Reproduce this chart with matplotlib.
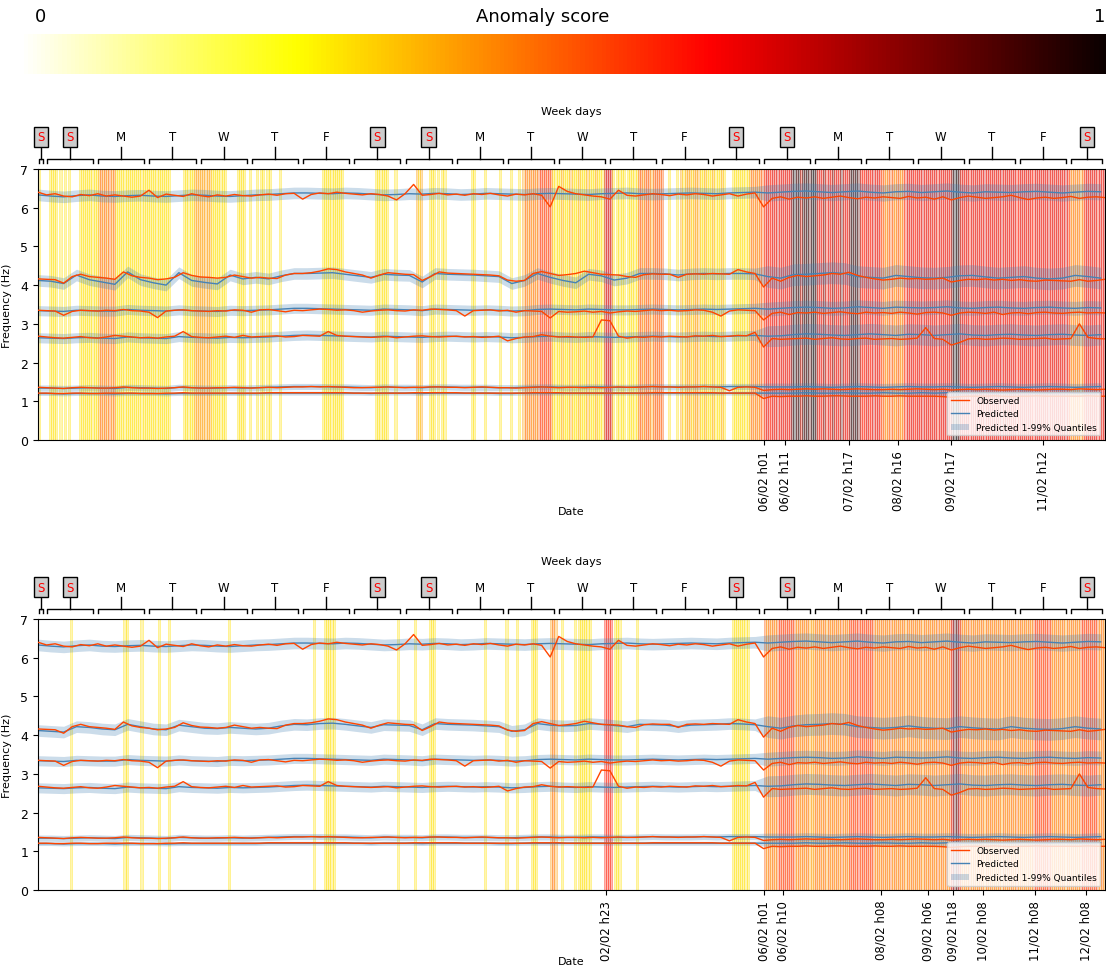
import numpy as np
import pandas as pd
import matplotlib
matplotlib.use("Agg")
import matplotlib.pyplot as plt
import matplotlib.dates as mdates
import matplotlib.transforms as mtransforms
from matplotlib.lines import Line2D
from matplotlib.patches import Patch

START = "2022-01-22 21:00"
END = "2022-02-12 17:00"
CHANGE = "2022-02-06 01:00"

# anomaly score level per hour (digit, see SCORE_LEVELS), one row per day, starting 22/01 h21
SCORE_LEVELS = [0.0, 0.1, 0.2, 0.3, 0.4, 0.5, 0.6, 0.7, 0.88, 1.0]
SCORES_TOP = [
    "300",
    "003333030303000033333333",  # 23/01
    "345454545333333333333333",
    "333333333330000003333344",
    "444444333333300000333300",
    "300303303300003000000000",
    "000000000033333333330000",
    "000000000003333330003000",
    "000000434000333030330000",  # 30/01
    "000000003300003000000300",
    "003000304545454565656533",
    "334333433343334333433377",  # 02/02
    "773033330333335545554555",
    "550030003043444344433433",
    "343334300033333333454545",
    "567667676767678989698989",  # 06/02
    "986768676867686768989866",
    "676676765545554554567676",
    "676767676767676768998676",
    "767676767676767676767676",
    "676767667676767676767676",
    "545454567676767676",  # 12/02 h00-h17
]
SCORES_BOT = [
    "000",
    "000000000000300000000000",
    "000000000000033000000300",
    "000003000030000000000000",
    "000000000000003000000000",
    "000000000000000000000000",
    "000000300003333300000000",
    "000000000000000000000300",
    "000003000000333000000000",
    "000000000000003000000000",
    "300003000000333000000454",
    "003000003033333300000066",
    "660333000000030000000000",
    "000000000000000000000000",
    "000000000033333333000000",
    "054545456565656545454544",
    "454545454545454546565656",
    "565654545454545454545454",
    "545454545454545457887545",
    "454545454545454545454545",
    "454545456565656545454545",
    "454545656565654545",
]

# observed frequencies (Hz), every 4 hours from START
OBS_F6 = [6.40, 6.33, 6.36, 6.30, 6.28, 6.34, 6.31, 6.36, 6.30, 6.33,
          6.30, 6.27, 6.30, 6.45, 6.26, 6.35, 6.32, 6.29, 6.36, 6.31,
          6.28, 6.33, 6.30, 6.34, 6.31, 6.30, 6.33, 6.35, 6.32, 6.36,
          6.37, 6.22, 6.34, 6.38, 6.36, 6.40, 6.37, 6.35, 6.33, 6.36,
          6.34, 6.30, 6.20, 6.36, 6.60, 6.32, 6.34, 6.37, 6.33, 6.35,
          6.32, 6.36, 6.34, 6.37, 6.33, 6.30, 6.35, 6.33, 6.36, 6.32,
          6.02, 6.55, 6.42, 6.36, 6.33, 6.30, 6.28, 6.22, 6.45, 6.32,
          6.30, 6.33, 6.36, 6.34, 6.31, 6.35, 6.33, 6.36, 6.34, 6.30,
          6.33, 6.36, 6.30, 6.35, 6.38, 6.02, 6.24, 6.28, 6.22, 6.27,
          6.25, 6.28, 6.24, 6.27, 6.30, 6.26, 6.23, 6.27, 6.25, 6.28,
          6.26, 6.24, 6.29, 6.25, 6.27, 6.22, 6.28, 6.20, 6.26, 6.30,
          6.27, 6.24, 6.26, 6.28, 6.32, 6.26, 6.21, 6.25, 6.27, 6.24,
          6.26, 6.29, 6.24, 6.27, 6.28, 6.26]
OBS_F5 = [4.16, 4.15, 4.14, 4.05, 4.22, 4.28, 4.22, 4.20, 4.18, 4.15,
          4.34, 4.24, 4.20, 4.18, 4.14, 4.16, 4.20, 4.32, 4.25, 4.21,
          4.20, 4.18, 4.20, 4.26, 4.22, 4.18, 4.20, 4.18, 4.17, 4.26,
          4.30, 4.30, 4.32, 4.36, 4.42, 4.40, 4.34, 4.30, 4.26, 4.18,
          4.26, 4.32, 4.30, 4.28, 4.27, 4.12, 4.22, 4.34, 4.31, 4.30,
          4.29, 4.28, 4.27, 4.26, 4.24, 4.13, 4.10, 4.12, 4.30, 4.35,
          4.30, 4.25, 4.27, 4.30, 4.36, 4.32, 4.28, 4.27, 4.26, 4.22,
          4.20, 4.27, 4.29, 4.28, 4.28, 4.20, 4.28, 4.29, 4.28, 4.30,
          4.29, 4.28, 4.40, 4.34, 4.30, 3.95, 4.18, 4.10, 4.20, 4.25,
          4.22, 4.24, 4.26, 4.30, 4.28, 4.33, 4.25, 4.20, 4.16, 4.13,
          4.15, 4.18, 4.16, 4.17, 4.15, 4.16, 4.18, 4.08, 4.12, 4.15,
          4.14, 4.16, 4.13, 4.15, 4.12, 4.14, 4.11, 4.10, 4.13, 4.12,
          4.11, 4.10, 4.14, 4.10, 4.12, 4.15]
OBS_F4 = [3.35, 3.34, 3.33, 3.22, 3.32, 3.35, 3.34, 3.33, 3.35, 3.34,
          3.37, 3.34, 3.33, 3.30, 3.16, 3.33, 3.35, 3.36, 3.34, 3.33,
          3.32, 3.34, 3.33, 3.36, 3.35, 3.30, 3.36, 3.37, 3.34, 3.31,
          3.35, 3.34, 3.36, 3.38, 3.37, 3.35, 3.36, 3.34, 3.30, 3.33,
          3.35, 3.36, 3.34, 3.33, 3.36, 3.35, 3.38, 3.37, 3.36, 3.34,
          3.20, 3.34, 3.35, 3.36, 3.33, 3.35, 3.30, 3.34, 3.33, 3.32,
          3.15, 3.32, 3.30, 3.31, 3.33, 3.30, 3.32, 3.28, 3.31, 3.33,
          3.32, 3.34, 3.36, 3.34, 3.35, 3.33, 3.34, 3.36, 3.35, 3.30,
          3.20, 3.33, 3.36, 3.35, 3.34, 3.10, 3.27, 3.30, 3.24, 3.29,
          3.28, 3.30, 3.27, 3.29, 3.31, 3.28, 3.26, 3.30, 3.28, 3.29,
          3.27, 3.30, 3.28, 3.25, 3.29, 3.30, 3.28, 3.22, 3.28, 3.30,
          3.29, 3.27, 3.30, 3.24, 3.28, 3.29, 3.26, 3.29, 3.30, 3.28,
          3.27, 3.29, 3.30, 3.28, 3.29, 3.28]
OBS_F3 = [2.68, 2.66, 2.64, 2.63, 2.65, 2.67, 2.64, 2.63, 2.66, 2.70,
          2.68, 2.66, 2.64, 2.65, 2.63, 2.66, 2.68, 2.80, 2.67, 2.65,
          2.64, 2.66, 2.68, 2.65, 2.70, 2.66, 2.67, 2.68, 2.69, 2.66,
          2.67, 2.70, 2.69, 2.68, 2.80, 2.70, 2.68, 2.67, 2.66, 2.65,
          2.66, 2.67, 2.64, 2.66, 2.68, 2.69, 2.67, 2.66, 2.67, 2.68,
          2.66, 2.67, 2.65, 2.66, 2.68, 2.56, 2.62, 2.66, 2.67, 2.72,
          2.68, 2.66, 2.67, 2.66, 2.65, 2.66, 3.10, 3.08, 2.68, 2.63,
          2.66, 2.65, 2.67, 2.66, 2.68, 2.67, 2.66, 2.69, 2.68, 2.70,
          2.67, 2.68, 2.70, 2.69, 2.78, 2.40, 2.62, 2.60, 2.61, 2.62,
          2.63, 2.60, 2.62, 2.64, 2.61, 2.60, 2.62, 2.63, 2.60, 2.61,
          2.62, 2.60, 2.61, 2.63, 2.90, 2.62, 2.60, 2.45, 2.52, 2.61,
          2.62, 2.60, 2.61, 2.63, 2.62, 2.60, 2.61, 2.62, 2.63, 2.60,
          2.61, 2.62, 3.00, 2.65, 2.62, 2.61]
OBS_F2 = [1.36, 1.35, 1.34, 1.33, 1.35, 1.36, 1.35, 1.34, 1.34, 1.35,
          1.37, 1.35, 1.34, 1.34, 1.33, 1.34, 1.35, 1.37, 1.35, 1.34,
          1.34, 1.35, 1.35, 1.36, 1.35, 1.34, 1.35, 1.36, 1.35, 1.36,
          1.37, 1.37, 1.38, 1.37, 1.38, 1.37, 1.36, 1.35, 1.35, 1.36,
          1.36, 1.37, 1.36, 1.35, 1.36, 1.36, 1.37, 1.37, 1.36, 1.36,
          1.35, 1.36, 1.37, 1.36, 1.35, 1.35, 1.34, 1.35, 1.36, 1.37,
          1.36, 1.35, 1.36, 1.36, 1.35, 1.36, 1.35, 1.36, 1.37, 1.36,
          1.36, 1.37, 1.38, 1.37, 1.37, 1.36, 1.37, 1.37, 1.38, 1.37,
          1.36, 1.27, 1.36, 1.37, 1.36, 1.28, 1.30, 1.31, 1.30, 1.31,
          1.32, 1.31, 1.32, 1.31, 1.30, 1.31, 1.32, 1.31, 1.30, 1.30,
          1.31, 1.30, 1.31, 1.32, 1.31, 1.30, 1.31, 1.29, 1.30, 1.31,
          1.30, 1.31, 1.30, 1.29, 1.30, 1.31, 1.30, 1.29, 1.30, 1.31,
          1.31, 1.30, 1.32, 1.31, 1.30, 1.31]
OBS_F1 = [1.21, 1.21, 1.20, 1.20, 1.21, 1.21, 1.20, 1.20, 1.21, 1.21,
          1.21, 1.21, 1.20, 1.20, 1.20, 1.21, 1.21, 1.22, 1.21, 1.21,
          1.21, 1.21, 1.21, 1.21, 1.21, 1.21, 1.21, 1.22, 1.22, 1.22,
          1.22, 1.22, 1.22, 1.22, 1.22, 1.22, 1.22, 1.21, 1.21, 1.21,
          1.21, 1.21, 1.21, 1.21, 1.22, 1.22, 1.22, 1.22, 1.22, 1.22,
          1.21, 1.21, 1.21, 1.21, 1.21, 1.21, 1.21, 1.21, 1.22, 1.22,
          1.22, 1.22, 1.21, 1.21, 1.21, 1.21, 1.21, 1.21, 1.21, 1.21,
          1.21, 1.21, 1.22, 1.22, 1.22, 1.22, 1.22, 1.22, 1.22, 1.22,
          1.21, 1.21, 1.21, 1.21, 1.21, 1.07, 1.13, 1.12, 1.13, 1.13,
          1.14, 1.13, 1.13, 1.14, 1.14, 1.13, 1.13, 1.13, 1.14, 1.13,
          1.13, 1.14, 1.13, 1.13, 1.13, 1.13, 1.12, 1.10, 1.12, 1.13,
          1.13, 1.13, 1.14, 1.13, 1.12, 1.13, 1.13, 1.14, 1.13, 1.13,
          1.13, 1.13, 1.13, 1.14, 1.13, 1.13]

# predicted frequencies (Hz), every 6 hours from START
PRED_F6 = [6.33, 6.30, 6.28, 6.31, 6.33, 6.30, 6.29, 6.31, 6.32, 6.30,
           6.29, 6.31, 6.33, 6.32, 6.30, 6.29, 6.31, 6.33, 6.34, 6.36,
           6.38, 6.38, 6.37, 6.36, 6.38, 6.37, 6.35, 6.33, 6.34, 6.36,
           6.35, 6.37, 6.36, 6.34, 6.35, 6.37, 6.36, 6.35, 6.34, 6.36,
           6.37, 6.36, 6.35, 6.34, 6.36, 6.37, 6.38, 6.36, 6.35, 6.36,
           6.37, 6.38, 6.37, 6.36, 6.38, 6.39, 6.40, 6.38, 6.40, 6.42,
           6.43, 6.41, 6.39, 6.41, 6.43, 6.40, 6.38, 6.41, 6.42, 6.39,
           6.41, 6.43, 6.40, 6.38, 6.41, 6.40, 6.39, 6.41, 6.42, 6.40,
           6.38, 6.40, 6.42, 6.41]
PRED_F5 = [4.12, 4.10, 4.08, 4.22, 4.20, 4.16, 4.14, 4.28, 4.22, 4.16,
           4.14, 4.26, 4.22, 4.18, 4.17, 4.20, 4.18, 4.16, 4.18, 4.24,
           4.28, 4.27, 4.30, 4.31, 4.28, 4.24, 4.20, 4.27, 4.26, 4.25,
           4.14, 4.30, 4.28, 4.27, 4.26, 4.24, 4.22, 4.10, 4.14, 4.30,
           4.26, 4.24, 4.25, 4.30, 4.28, 4.25, 4.22, 4.28, 4.27, 4.26,
           4.22, 4.26, 4.27, 4.28, 4.30, 4.29, 4.27, 4.22, 4.18, 4.24,
           4.27, 4.28, 4.30, 4.28, 4.22, 4.20, 4.18, 4.20, 4.24, 4.20,
           4.18, 4.17, 4.22, 4.19, 4.17, 4.16, 4.22, 4.18, 4.16, 4.15,
           4.17, 4.22, 4.18, 4.16]
PRED_F5_TOP = [4.12, 4.10, 4.04, 4.26, 4.14, 4.08, 4.02, 4.34, 4.14, 4.06,
               4.00, 4.32, 4.12, 4.07, 4.03, 4.26, 4.16, 4.20, 4.16, 4.24,
               4.30, 4.30, 4.31, 4.32, 4.28, 4.24, 4.20, 4.28, 4.26, 4.25,
               4.08, 4.30, 4.28, 4.27, 4.26, 4.24, 4.22, 4.04, 4.12, 4.30,
               4.20, 4.12, 4.06, 4.28, 4.24, 4.13, 4.18, 4.30, 4.30, 4.29,
               4.26, 4.29, 4.30, 4.29, 4.30, 4.30, 4.29, 4.22, 4.18, 4.27,
               4.28, 4.30, 4.32, 4.30, 4.22, 4.20, 4.18, 4.25, 4.22, 4.19,
               4.18, 4.20, 4.24, 4.25, 4.21, 4.18, 4.20, 4.22, 4.18, 4.16,
               4.18, 4.25, 4.22, 4.18]
PRED_F4 = [3.34, 3.33, 3.32, 3.35, 3.34, 3.33, 3.33, 3.37, 3.35, 3.34,
           3.33, 3.36, 3.34, 3.33, 3.32, 3.35, 3.34, 3.35, 3.36, 3.38,
           3.40, 3.40, 3.39, 3.38, 3.37, 3.36, 3.35, 3.38, 3.37, 3.36,
           3.34, 3.38, 3.37, 3.36, 3.35, 3.36, 3.35, 3.33, 3.34, 3.37,
           3.38, 3.37, 3.36, 3.38, 3.37, 3.36, 3.36, 3.37, 3.38, 3.37,
           3.36, 3.37, 3.38, 3.37, 3.38, 3.39, 3.40, 3.38, 3.40, 3.42,
           3.43, 3.42, 3.40, 3.41, 3.44, 3.42, 3.40, 3.43, 3.42, 3.41,
           3.42, 3.44, 3.41, 3.40, 3.42, 3.43, 3.41, 3.40, 3.42, 3.43,
           3.41, 3.40, 3.42, 3.41]
PRED_F3 = [2.64, 2.63, 2.62, 2.64, 2.65, 2.63, 2.62, 2.66, 2.64, 2.63,
           2.62, 2.67, 2.65, 2.64, 2.63, 2.65, 2.64, 2.65, 2.66, 2.68,
           2.70, 2.71, 2.70, 2.69, 2.68, 2.67, 2.66, 2.68, 2.67, 2.66,
           2.65, 2.67, 2.68, 2.67, 2.66, 2.67, 2.66, 2.64, 2.65, 2.67,
           2.68, 2.66, 2.65, 2.67, 2.66, 2.65, 2.66, 2.67, 2.68, 2.67,
           2.66, 2.67, 2.68, 2.67, 2.68, 2.69, 2.70, 2.68, 2.69, 2.72,
           2.74, 2.73, 2.71, 2.70, 2.72, 2.74, 2.72, 2.70, 2.73, 2.72,
           2.70, 2.72, 2.74, 2.71, 2.70, 2.72, 2.73, 2.71, 2.70, 2.72,
           2.73, 2.71, 2.70, 2.72]
PRED_F2 = [1.34, 1.34, 1.33, 1.34, 1.35, 1.34, 1.33, 1.36, 1.35, 1.34,
           1.33, 1.36, 1.35, 1.34, 1.34, 1.35, 1.34, 1.35, 1.36, 1.37,
           1.38, 1.38, 1.38, 1.37, 1.37, 1.36, 1.35, 1.37, 1.36, 1.36,
           1.35, 1.37, 1.37, 1.36, 1.36, 1.36, 1.35, 1.35, 1.36, 1.37,
           1.37, 1.36, 1.36, 1.37, 1.37, 1.36, 1.36, 1.37, 1.38, 1.37,
           1.37, 1.37, 1.38, 1.37, 1.38, 1.38, 1.38, 1.37, 1.37, 1.37,
           1.38, 1.37, 1.36, 1.37, 1.38, 1.37, 1.36, 1.37, 1.38, 1.37,
           1.37, 1.38, 1.37, 1.36, 1.37, 1.38, 1.37, 1.36, 1.37, 1.38,
           1.37, 1.36, 1.37, 1.38]
PRED_F1 = [1.20, 1.20, 1.19, 1.20, 1.20, 1.20, 1.19, 1.20, 1.20, 1.20,
           1.19, 1.20, 1.20, 1.20, 1.20, 1.20, 1.20, 1.20, 1.21, 1.21,
           1.21, 1.21, 1.21, 1.21, 1.21, 1.21, 1.20, 1.21, 1.21, 1.21,
           1.20, 1.21, 1.21, 1.21, 1.21, 1.21, 1.20, 1.20, 1.21, 1.21,
           1.21, 1.21, 1.21, 1.21, 1.21, 1.21, 1.21, 1.21, 1.21, 1.21,
           1.21, 1.21, 1.21, 1.21, 1.21, 1.21, 1.21, 1.21, 1.21, 1.21,
           1.22, 1.21, 1.21, 1.22, 1.21, 1.21, 1.22, 1.21, 1.21, 1.22,
           1.21, 1.22, 1.21, 1.21, 1.22, 1.21, 1.21, 1.22, 1.21, 1.21,
           1.22, 1.21, 1.21, 1.22]

# half width of the 1-99% quantile band, before / after 06/02 h01 (modes 1..6)
BAND_BEFORE = [0.05, 0.08, 0.13, 0.13, 0.15, 0.15]
BAND_AFTER = [0.09, 0.10, 0.27, 0.18, 0.28, 0.21]

TICKS_TOP = ["2022-02-06 01:00", "2022-02-06 11:00", "2022-02-07 17:00",
             "2022-02-08 16:00", "2022-02-09 17:00", "2022-02-11 12:00"]
TICKS_BOT = ["2022-02-02 23:00", "2022-02-06 01:00", "2022-02-06 10:00",
             "2022-02-08 08:00", "2022-02-09 06:00", "2022-02-09 18:00",
             "2022-02-10 08:00", "2022-02-11 08:00", "2022-02-12 08:00"]

OBS = [OBS_F1, OBS_F2, OBS_F3, OBS_F4, OBS_F5, OBS_F6]
PRED_BOT = [PRED_F1, PRED_F2, PRED_F3, PRED_F4, PRED_F5, PRED_F6]
PRED_TOP = [PRED_F1, PRED_F2, PRED_F3, PRED_F4, PRED_F5_TOP, PRED_F6]

scores_top = "".join(SCORES_TOP)
scores_bot = "".join(SCORES_BOT)
assert len(scores_top) == 501 and len(scores_bot) == 501

t_obs = mdates.date2num(pd.date_range(START, periods=len(OBS_F1), freq="4h").values)
t_pred = mdates.date2num(pd.date_range(START, periods=len(PRED_F1), freq="6h").values)
t_hour = mdates.date2num(pd.date_range(START, periods=501, freq="h").values)
x_start = mdates.date2num(pd.Timestamp(START))
x_end = mdates.date2num(pd.Timestamp(END))
x_change = mdates.date2num(pd.Timestamp(CHANGE))

cmap = plt.get_cmap("hot_r")
OBS_COLOR = "#ff4500"
PRED_COLOR = "#4682b4"


def week_header(ax):
    trans = mtransforms.blended_transform_factory(ax.transData, ax.transAxes)
    for d in pd.date_range("2022-01-22", "2022-02-12", freq="D"):
        a = max(mdates.date2num(d), x_start)
        b = min(mdates.date2num(d + pd.Timedelta(days=1)), x_end)
        pad = min(0.05, (b - a) * 0.2)
        xs, xe = a + pad, b - pad
        xc = (xs + xe) / 2
        ax.plot([xs, xs, xe, xe], [1.022, 1.037, 1.037, 1.022], transform=trans,
                color="black", lw=1, clip_on=False)
        ax.plot([xc, xc], [1.037, 1.08], transform=trans, color="black", lw=1, clip_on=False)
        wd = d.weekday()
        if wd >= 5:
            ax.text(xc, 1.118, "S", transform=trans, ha="center", va="center", fontsize=8.5,
                    color="red", bbox=dict(boxstyle="square,pad=0.3", fc="#cccccc", ec="black", lw=1))
        else:
            ax.text(xc, 1.118, "MTWTF"[wd], transform=trans, ha="center", va="center", fontsize=8.5)
    ax.text(0.5, 1.214, "Week days", transform=ax.transAxes, ha="center", va="center", fontsize=8)


def draw_panel(ax, scores, preds, ticks):
    # anomaly score of each hour as a coloured band
    for t, ch in zip(t_hour, scores):
        s = SCORE_LEVELS[int(ch)]
        if s == 0:
            continue
        c = cmap(s)
        ax.axvspan(t, t + 1 / 24, facecolor=(c[0], c[1], c[2], 0.3),
                   edgecolor=(c[0], c[1], c[2], 0.5), lw=0.45, zorder=0)

    for k in range(6):
        pred = np.array(preds[k])
        half = np.where(t_pred < x_change, BAND_BEFORE[k], BAND_AFTER[k])
        ax.fill_between(t_pred, pred - half, pred + half, color=PRED_COLOR, alpha=0.28,
                        lw=0, zorder=1)
        ax.plot(t_pred, pred, color=PRED_COLOR, lw=1, zorder=2)
        ax.plot(t_obs, OBS[k], color=OBS_COLOR, lw=1, zorder=3)

    ax.set_xlim(x_start, x_end)
    ax.set_ylim(0, 7)
    ax.set_yticks(range(8))
    ax.tick_params(axis="y", labelsize=9)
    tk = mdates.date2num(pd.to_datetime(ticks).values)
    ax.set_xticks(tk)
    ax.set_xticklabels([pd.Timestamp(t).strftime("%d/%m h%H") for t in ticks],
                       rotation=90, fontsize=8.5)
    ax.set_xlabel("Date", fontsize=8)
    ax.xaxis.set_label_coords(0.5, -0.245)
    ax.set_ylabel("Frequency (Hz)", fontsize=8)
    ax.yaxis.set_label_coords(-0.024, 0.5)

    handles = [Line2D([], [], color=OBS_COLOR, lw=1),
               Line2D([], [], color=PRED_COLOR, lw=1),
               Patch(facecolor=PRED_COLOR, alpha=0.28)]
    ax.legend(handles, ["Observed", "Predicted", "Predicted 1-99% Quantiles"],
              loc="lower right", fontsize=6.5, framealpha=0.8)
    week_header(ax)


fig = plt.figure(figsize=(11.06, 9.70), dpi=100)

# anomaly score colour scale
cax = fig.add_axes([0.018, 0.9227, 0.982, 0.0412])
cax.imshow(np.linspace(0, 1, 256)[None, :], aspect="auto", cmap=cmap)
cax.axis("off")
fig.text(40 / 1106, 1 - 17 / 970, "0", ha="center", va="center", fontsize=13)
fig.text(543 / 1106, 1 - 17 / 970, "Anomaly score", ha="center", va="center", fontsize=13)
fig.text(1100 / 1106, 1 - 17 / 970, "1", ha="center", va="center", fontsize=13)

ax1 = fig.add_axes([0.0344, 0.5454, 0.9647, 0.2794])
draw_panel(ax1, scores_top, PRED_TOP, TICKS_TOP)
ax2 = fig.add_axes([0.0344, 0.0814, 0.9647, 0.2794])
draw_panel(ax2, scores_bot, PRED_BOT, TICKS_BOT)

fig.savefig("out.png", dpi=100)
